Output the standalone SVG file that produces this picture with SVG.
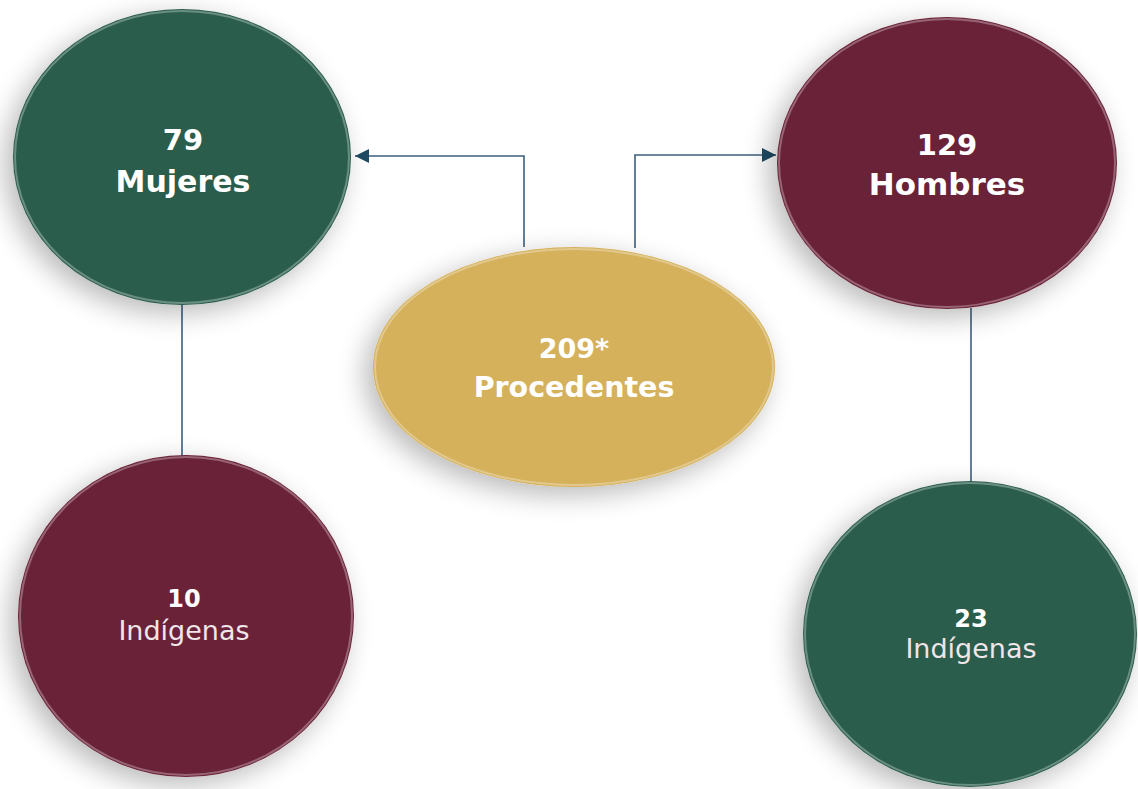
<svg xmlns="http://www.w3.org/2000/svg" width="1138" height="789" viewBox="0 0 1138 789">
<defs>
<style>
.lbl{font-family:"DejaVu Sans","Liberation Sans",sans-serif;fill:#ffffff;text-anchor:middle}
.b{font-weight:700}
.r{font-weight:400;fill:#efe6ea}
.conn{fill:none;stroke:#3b5f7e;stroke-width:1.6}
.green{fill:#2a5d4b}
.maroon{fill:#6b2239}
.gold{fill:#d5b15c}
.rim{fill:none;stroke:#ffffff;stroke-opacity:0.3;stroke-width:2}
</style>
<filter id="sh" x="-25%" y="-25%" width="150%" height="150%">
<feGaussianBlur in="SourceAlpha" stdDeviation="14"/>
<feOffset dx="-8" dy="8" result="o"/>
<feComponentTransfer><feFuncA type="linear" slope="0.28"/></feComponentTransfer>
<feMerge><feMergeNode/><feMergeNode in="SourceGraphic"/></feMerge>
</filter>
<marker id="ah" viewBox="0 0 10 10" refX="10" refY="5" markerWidth="14" markerHeight="14" markerUnits="userSpaceOnUse" orient="auto">
<path d="M0,0 L10,5 L0,10 Z" fill="#1f4b63"/>
</marker>
</defs>
<rect width="1138" height="789" fill="#ffffff"/>
<g id="connectors">
<path class="conn" d="M524,247 V156 H355" marker-end="url(#ah)"/>
<path class="conn" d="M635,248 V155 H776" marker-end="url(#ah)"/>
<path class="conn" d="M182,305 V456"/>
<path class="conn" d="M971,308 V482"/>
</g>
<g id="mujeres">
<ellipse class="green" cx="182" cy="157" rx="169" ry="148" filter="url(#sh)"/>
<ellipse class="rim" cx="182" cy="157" rx="167" ry="146"/>
<text class="lbl b" x="183" y="150" font-size="29">79</text>
<text class="lbl b" x="183" y="192" font-size="30">Mujeres</text>
</g>
<g id="hombres">
<ellipse class="maroon" cx="947" cy="163" rx="170" ry="146" filter="url(#sh)"/>
<ellipse class="rim" cx="947" cy="163" rx="168" ry="144"/>
<text class="lbl b" x="947" y="155" font-size="29">129</text>
<text class="lbl b" x="947" y="195" font-size="31">Hombres</text>
</g>
<g id="procedentes">
<ellipse class="gold" cx="574" cy="367" rx="201" ry="120" filter="url(#sh)"/>
<ellipse class="rim" cx="574" cy="367" rx="199" ry="118"/>
<text class="lbl b" x="574" y="358" font-size="27">209*</text>
<text class="lbl b" x="574" y="397" font-size="28.5">Procedentes</text>
</g>
<g id="indigenas-mujeres">
<ellipse class="maroon" cx="186" cy="616" rx="168" ry="161" filter="url(#sh)"/>
<ellipse class="rim" cx="186" cy="616" rx="166" ry="159"/>
<text class="lbl b" x="184" y="607" font-size="24">10</text>
<text class="lbl r" x="184" y="640" font-size="27">Indígenas</text>
</g>
<g id="indigenas-hombres">
<ellipse class="green" cx="970" cy="634" rx="167" ry="153" filter="url(#sh)"/>
<ellipse class="rim" cx="970" cy="634" rx="165" ry="151"/>
<text class="lbl b" x="971" y="627" font-size="24">23</text>
<text class="lbl r" x="971" y="658" font-size="27">Indígenas</text>
</g>
</svg>
